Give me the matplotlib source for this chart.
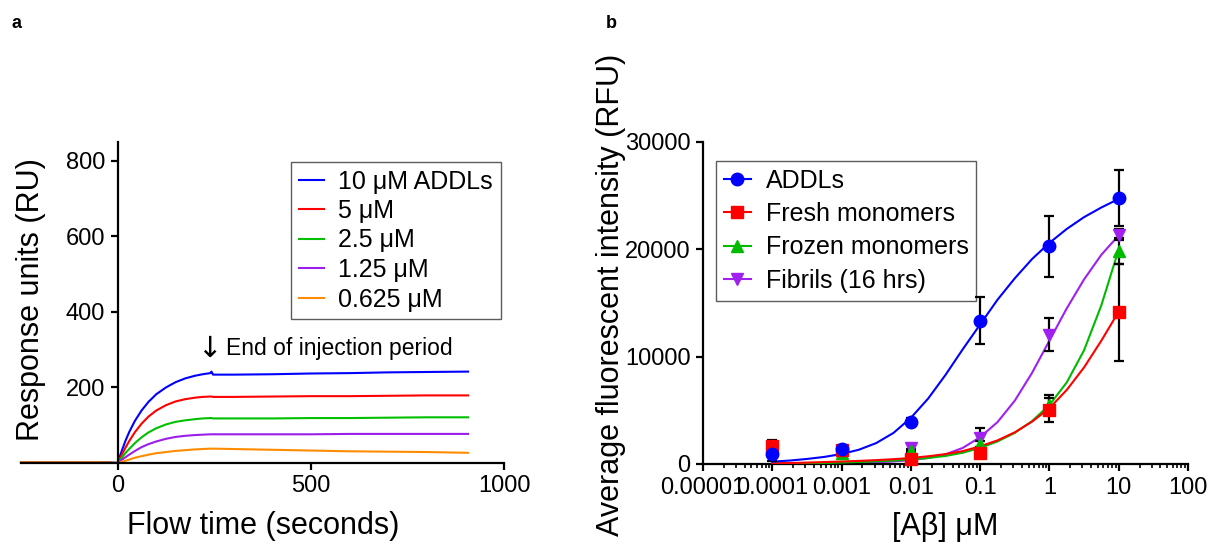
import numpy as np
import matplotlib
matplotlib.use("Agg")
import matplotlib.pyplot as plt
from matplotlib.ticker import FixedLocator, FixedFormatter, LogLocator, NullFormatter
from matplotlib.lines import Line2D

plt.rcParams['font.family'] = ['Liberation Sans', 'DejaVu Sans']

# ---------------- Panel a data (SPR sensorgrams) ----------------
time_s = [-250, -150, -50, 0, 10, 20, 30, 45, 62, 80, 100, 125, 150, 175, 200, 220, 240, 243, 247, 300, 400, 500, 600, 700, 800, 907]
ru_10uM = [2, 2, 2, 0, 30, 58, 82, 112, 139, 162, 182, 200, 214, 224, 231, 235, 238, 242, 234, 234, 235, 237, 238, 240, 241, 242]
ru_5uM = [2, 2, 2, 0, 20, 40, 58, 82, 104, 123, 139, 153, 163, 169, 173, 175, 176, 176, 175, 175, 176, 177, 177, 178, 179, 179]
ru_2_5uM = [2, 2, 2, 0, 13, 26, 37, 53, 68, 81, 92, 102, 109, 113, 116, 118, 119, 119, 118, 118, 118, 119, 119, 120, 121, 121]
ru_1_25uM = [2, 2, 2, 0, 8, 15, 22, 32, 42, 50, 57, 64, 69, 72, 74, 75, 76, 76, 76, 76, 76, 76, 77, 77, 77, 77]
ru_0_625uM = [2, 2, 2, 0, 3, 6, 9, 14, 18, 22, 26, 29, 32, 34, 36, 37, 38, 38, 38, 37, 35, 33, 31, 30, 29, 27]
series_a_labels = ['10 μM ADDLs', '5 μM', '2.5 μM', '1.25 μM', '0.625 μM']
series_a_colors = ['#0000FF', '#FF0000', '#00C000', '#9B1FE8', '#FF8C00']

# ---------------- Panel b data (binding curves) ----------------
conc_uM = [1e-4, 1e-3, 1e-2, 1e-1, 1, 10]
addls = [960, 1370, 3950, 13360, 20280, 24800]
addls_err = [650, 250, 300, 2200, 2850, 2600]
fresh = [1680, 1280, 440, 1060, 5020, 14140]
fresh_err = [600, 300, 200, 300, 1100, 4500]
frozen = [1500, 1000, 1200, 1870, 5500, 19850]
frozen_err = [400, 200, 200, 300, 900, 1200]
fibrils = [1400, 1200, 1530, 2460, 12060, 21370]
fibrils_err = [300, 200, 300, 900, 1500, 500]

# fitted curves (log10 concentration, quarter decades)
fit_logx = [-4, -3.75, -3.5, -3.25, -3, -2.75, -2.5, -2.25, -2, -1.75, -1.5,
            -1.25, -1, -0.75, -0.5, -0.25, 0, 0.25, 0.5, 0.75, 1]
fit_addls = [220, 320, 470, 660, 930, 1330, 1950, 2900, 4300, 6100, 8300,
             10700, 13000, 15300, 17300, 19100, 20600, 21900, 23000, 23900, 24700]
fit_fibrils = [0, 10, 20, 30, 60, 100, 160, 240, 360, 560, 900,
               1500, 2500, 3900, 5900, 8500, 11500, 14500, 17200, 19500, 21300]
fit_frozen = [30, 50, 70, 100, 140, 190, 250, 320, 420, 560, 750,
              1050, 1500, 2100, 2900, 4000, 5500, 7600, 10600, 14800, 20000]
fit_fresh = [60, 90, 130, 180, 230, 290, 360, 450, 560, 720, 920,
             1200, 1650, 2200, 2950, 3950, 5200, 6900, 9000, 11500, 14200]

x_tick_vals = [1e-5, 1e-4, 1e-3, 1e-2, 1e-1, 1, 10, 100]
x_tick_labels = ['0.00001', '0.0001', '0.001', '0.01', '0.1', '1', '10', '100']

W, H = 1210, 544
fig = plt.figure(figsize=(W / 100, H / 100), dpi=100)

def box(l, r, t, b):
    return [l / W, 1 - b / H, (r - l) / W, (b - t) / H]

TICK = 17
LAB = 22

# ---------------- Panel a ----------------
axa = fig.add_axes(box(21, 504, 142, 463))
for vals, lab, col in zip([ru_10uM, ru_5uM, ru_2_5uM, ru_1_25uM, ru_0_625uM],
                          series_a_labels, series_a_colors):
    axa.plot(time_s, vals, color=col, lw=1.5, label=lab, clip_on=False)
axa.set_xlim(-250, 1000)
axa.set_ylim(0, 850)
axa.spines['left'].set_position(('data', 0))
axa.spines['top'].set_visible(False)
axa.spines['right'].set_visible(False)
for s in ('left', 'bottom'):
    axa.spines[s].set_linewidth(1.6)
axa.set_xticks([0, 500, 1000])
axa.set_yticks([200, 400, 600, 800])
axa.tick_params(direction='out', length=5, width=1.6, labelsize=TICK, pad=4)
axa.text(236, 302, '↓', fontsize=21, va='center', ha='center', family=['DejaVu Sans'])
axa.text(280, 302, 'End of injection period', fontsize=16.5, va='center', ha='left')
leg = axa.legend(loc='upper left', bbox_to_anchor=(291 / W, 1 - 162 / H),
                 bbox_transform=fig.transFigure, fontsize=18, frameon=True,
                 fancybox=False, edgecolor='#333333', handlelength=1.0,
                 handletextpad=0.6, labelspacing=0.22, borderpad=0.3, borderaxespad=0)
leg.get_frame().set_linewidth(1.0)
fig.text(263 / W, 1 - 526 / H, 'Flow time (seconds)', fontsize=LAB, ha='center', va='center')
fig.text(31 / W, 1 - 300 / H, 'Response units (RU)', fontsize=LAB, ha='center', va='center',
         rotation=90)
fig.text(17 / W, 1 - 24 / H, 'a', fontsize=13, fontweight='bold', ha='center', va='center')

# ---------------- Panel b ----------------
axb = fig.add_axes(box(703, 1188, 142, 464))
fit_x = [10 ** v for v in fit_logx]
specs = [
    (fibrils, fibrils_err, fit_fibrils, '#A020F0', 'v', 'Fibrils (16 hrs)', 9),
    (frozen, frozen_err, fit_frozen, '#00BB00', '^', 'Frozen monomers', 9),
    (fresh, fresh_err, fit_fresh, '#FF0000', 's', 'Fresh monomers', 8.5),
    (addls, addls_err, fit_addls, '#0000FF', 'o', 'ADDLs', 9),
]
handles = {}
for i, (y, e, fy, col, mk, lab, ms) in enumerate(specs):
    axb.plot(fit_x, fy, color=col, lw=1.5, zorder=2 + i)
    axb.errorbar(conc_uM, y, yerr=e, fmt='none', ecolor='black', elinewidth=1.6,
                 capsize=3.8, capthick=1.6, zorder=6 + i)
    axb.plot(conc_uM, y, linestyle='none', marker=mk, color=col, markersize=ms,
             zorder=10 + i, clip_on=False)
    handles[lab] = (col, mk, ms)
axb.set_xscale('log')
axb.set_xlim(1e-5, 1e2)
axb.set_ylim(0, 30000)
axb.spines['top'].set_visible(False)
axb.spines['right'].set_visible(False)
for s in ('left', 'bottom'):
    axb.spines[s].set_linewidth(1.6)
axb.xaxis.set_major_locator(FixedLocator(x_tick_vals))
axb.xaxis.set_major_formatter(FixedFormatter(x_tick_labels))
axb.xaxis.set_minor_locator(LogLocator(base=10, subs=np.arange(2, 10), numticks=20))
axb.xaxis.set_minor_formatter(NullFormatter())
axb.set_yticks([0, 10000, 20000, 30000])
axb.tick_params(which='major', direction='out', length=5, width=1.6, labelsize=TICK, pad=4)
axb.tick_params(which='minor', direction='out', length=3, width=1.2)

order = ['ADDLs', 'Fresh monomers', 'Frozen monomers', 'Fibrils (16 hrs)']
leg_h = [Line2D([0], [0], color=handles[k][0], marker=handles[k][1], markersize=handles[k][2],
                lw=1.5) for k in order]
legb = axb.legend(leg_h, order, loc='upper left', bbox_to_anchor=(716 / W, 1 - 161 / H),
                  bbox_transform=fig.transFigure, fontsize=18, frameon=True, fancybox=False,
                  edgecolor='#333333', handlelength=1.1, handletextpad=0.6,
                  labelspacing=0.38, borderpad=0.3, borderaxespad=0)
legb.get_frame().set_linewidth(1.0)
fig.text(945 / W, 1 - 527 / H, '[Aβ] μM', fontsize=LAB, ha='center', va='center')
fig.text(611 / W, 1 - 295 / H, 'Average fluorescent intensity (RFU)', fontsize=LAB,
         ha='center', va='center', rotation=90)
fig.text(611 / W, 1 - 23 / H, 'b', fontsize=13, fontweight='bold', ha='center', va='center')

fig.savefig('out.png', dpi=100)
